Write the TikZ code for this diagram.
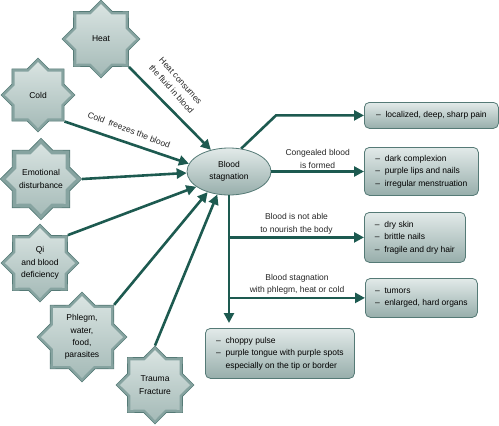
\documentclass[tikz,border=0pt]{standalone}
\usepackage{fontspec}
\setmainfont{Liberation Sans}
\usetikzlibrary{shapes.geometric, arrows.meta, calc}

\definecolor{feedteal}{HTML}{1D5A50}
\definecolor{edgeteal}{HTML}{557A76}
\definecolor{ringteal}{HTML}{86A3A0}
\definecolor{facetop}{HTML}{DCE6E4}
\definecolor{facebot}{HTML}{A2B8B5}
\definecolor{boxtop}{HTML}{E2EAE9}
\definecolor{boxbot}{HTML}{97AEAB}

\tikzset{
    cause/.style={star, star points=8, star point ratio=1.31, minimum size=2*#1,
        inner sep=0pt, fill=ringteal, draw=edgeteal, line width=0.6pt, align=center,
        path picture={
            \shade[top color=facetop, bottom color=facebot]
                ([shift={(90:#1-4)}]path picture bounding box.center)
                \foreach \k in {1,...,15}{
                    -- ([shift={({90+22.5*\k}:{(mod(\k,2)==1 ? 0.765 : 1)*(#1-4)})}]path picture bounding box.center)
                } -- cycle;
        }},
    sign/.style={rectangle, rounded corners=5pt, draw=edgeteal, line width=0.8pt,
        top color=boxtop, bottom color=boxbot, anchor=north west, align=left},
    feed/.style={draw=feedteal, line width=2.6pt, -{Triangle[length=10pt, width=10pt]}},
    note/.style={align=center, text=black!85, inner sep=2pt}
}

\begin{document}
\begin{tikzpicture}[x=1pt, y=-1pt, font=\fontsize{8.5}{12.4}\selectfont]
    \useasboundingbox (0,0) rectangle (499,426);

    % Causes
    \node[cause=39] (heat) at (101,39) {Heat};
    \node[cause=37] (cold) at (38,95) {Cold};
    \node[cause=39] (emot) at (41,179) {Emotional\\disturbance};
    \node[cause=39] (qi) at (40,263) {Qi\\and blood\\deficiency};
    \node[cause=45] (phlegm) at (82,337) {Phlegm,\\water,\\food,\\parasites};
    \node[cause=39] (trauma) at (155,385) {Trauma\\Fracture};

    % The stagnation
    \node[ellipse, minimum width=84pt, minimum height=47pt, inner sep=0pt, align=center,
        draw=edgeteal, line width=0.8pt, top color=boxtop, bottom color=boxbot]
        (stag) at (229,171.5) {Blood\\stagnation};

    % Signs
    \node[sign, minimum width=134pt, minimum height=26pt] (pain) at (364,102)
        {--\ \ localized, deep, sharp pain};
    \node[sign, minimum width=114pt, minimum height=48pt] (complexion) at (364,147)
        {--\ \ dark complexion\\--\ \ purple lips and nails\\--\ \ irregular menstruation};
    \node[sign, minimum width=101pt, minimum height=50pt] (skin) at (364,212)
        {--\ \ dry skin\\--\ \ brittle nails\\--\ \ fragile and dry hair};
    \node[sign, minimum width=112pt, minimum height=39pt] (tumor) at (365,278)
        {--\ \ tumors\\--\ \ enlarged, hard organs};
    \node[sign, minimum width=149pt, minimum height=50pt] (pulse) at (205,328)
        {--\ \ choppy pulse\\--\ \ purple tongue with purple spots\\\phantom{--}\ \ especially on the tip or border};

    % Arrows into the stagnation
    \draw[feed] (heat.outer point 6) -- (stag.130);
    \node[note, rotate=-48] (heatnote) at (176,85) {Heat consumes\\the fluid in blood};
    \draw[feed] (cold.outer point 6) -- (stag.169);
    \node[note, rotate=-21] (coldnote) at (129,130) {Cold~ freezes the blood};
    \foreach \src/\pt/\ang in {emot/7/182, qi/8/205, phlegm/8/224, trauma/1/243}
        \draw[feed] (\src.outer point \pt) -- (stag.\ang);

    % Arrows out to the signs
    \draw[feed] (stag.62) -- ($(pain.west)+(-88,0)$) -- (pain.west);
    \draw[feed] (stag.east) -- node[note, above] (congealnote)
        {Congealed blood\\is formed} (stag.east -| complexion.west);
    \draw[feed, shorten >=5pt] (stag.south) -- (stag.south |- pulse.north);
    \draw[feed] (stag.south |- skin.west) -- node[note, above] (nourishnote)
        {Blood is not able\\to nourish the body} (skin.west);
    \draw[feed] (stag.south |- tumor.west) -- node[note, above] (phlegmnote)
        {Blood stagnation\\with phlegm, heat or cold} (tumor.west);
\end{tikzpicture}
\end{document}
